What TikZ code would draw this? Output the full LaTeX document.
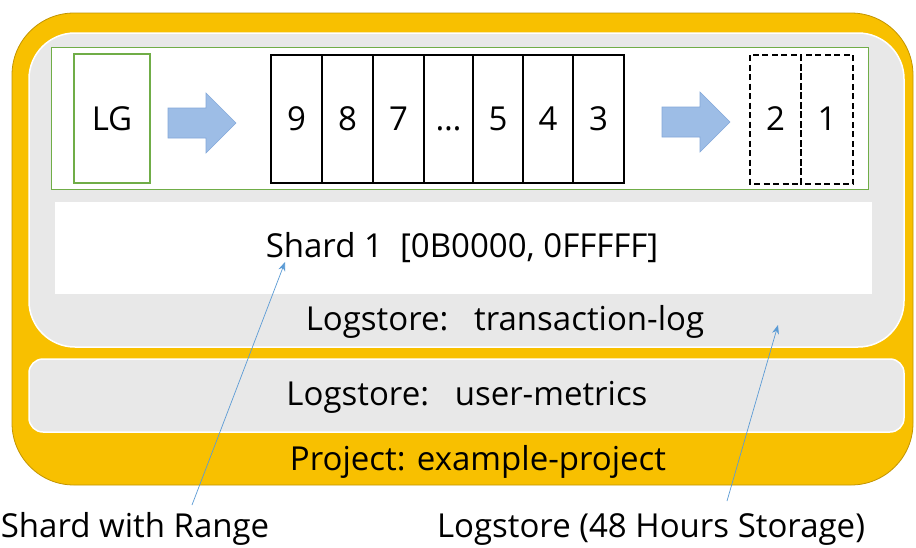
\documentclass[tikz,border=0pt]{standalone}
\usepackage{fontspec}
\setmainfont{Open Sans}
\usetikzlibrary{arrows.meta}
\definecolor{gold}{HTML}{F8C000}
\definecolor{goldedge}{HTML}{C29400}
\definecolor{panel}{HTML}{E8E8E8}
\definecolor{lggreen}{HTML}{70AD47}
\definecolor{arrowfill}{HTML}{9DBDE6}
\definecolor{arrowedge}{HTML}{84A9DA}
\definecolor{callout}{HTML}{5B9BD5}
\tikzset{
  txt/.style={font=\fontsize{33}{38}\selectfont, inner sep=0pt, anchor=base},
  cell/.style={draw=black, line width=2.8pt, fill=white},
  dcell/.style={draw=black, line width=2.8pt, dashed, dash pattern=on 6pt off 3.5pt},
  bigarrow/.style={fill=arrowfill, draw=arrowedge, line width=0.6pt},
  callline/.style={draw=callout, line width=0.7pt, -{Stealth[length=9pt,width=7pt]}},
}
\begin{document}
\begin{tikzpicture}[x=1pt,y=-1pt]
\useasboundingbox (0,0) rectangle (916,547);
\fill[white] (0,0) rectangle (916,547);
% project
\draw[fill=gold, draw=goldedge, line width=0.8pt, rounded corners=62pt] (12,13) rectangle (913,485);
% transaction-log panel
\draw[fill=panel, draw=white, line width=1.5pt, rounded corners=46pt] (29,33) rectangle (904,347);
% user-metrics panel
\draw[fill=panel, draw=white, line width=1.5pt, rounded corners=14pt] (29,359) rectangle (904,432);
% green strip
\draw[fill=white, draw=lggreen, line width=0.8pt] (51,47) rectangle (868,189);
% shard white box
\fill[white] (55,202) rectangle (872,294);
% LG
\node[draw=lggreen, line width=2.8pt, fill=white, minimum width=76pt, minimum height=129pt, inner sep=0pt] (lg) at (112,118.5) {};
\node[txt] (lgt) at (112,130) {LG};
% arrows
\draw[bigarrow] (168,108) -- (206,108) -- (206,93) -- (236,123) -- (206,153) -- (206,138) -- (168,138) -- cycle;
\draw[bigarrow] (662,107) -- (700,107) -- (700,92) -- (730,122) -- (700,152) -- (700,137) -- (662,137) -- cycle;
% cells
\foreach \a/\b/\t/\n in {271/322/9/c9, 322/373/8/c8, 373/424/7/c7, 424/473/\dots/cd, 473/523/5/c5, 523/573/4/c4, 573/624/3/c3}{
  \draw[cell] (\a,55) rectangle (\b,183);
  \node[txt] (\n) at ({(\a+\b)/2},130) {\t};
}
\draw[dcell] (750,55) rectangle (801,184);
\draw[dcell] (801,55) rectangle (853,184);
\node[txt] (c2) at (775.5,130) {2};
\node[txt] (c1) at (827,130) {1};
% texts
\node[txt] (shard) at (462,257) {Shard 1\ \ [0B0000, 0FFFFF]};
\node[txt] (tlog) at (505,330) {Logstore:\ \ \ transaction-log};
\node[txt] (umet) at (467,405) {Logstore:\ \ \ user-metrics};
\node[txt] (proj) at (478,470) {Project: example-project};
\node[txt] (lab1) at (135,537) {Shard with Range};
\node[txt] (lab2) at (651,537) {Logstore (48 Hours Storage)};
% callouts
\coordinate (tip1) at (285,262);
\coordinate (tip2) at (778,325);
\coordinate (from1) at (192,505);
\coordinate (from2) at (727,501);
\draw[callline] (from1) -- (tip1);
\draw[callline] (from2) -- (tip2);
\end{tikzpicture}
\end{document}
